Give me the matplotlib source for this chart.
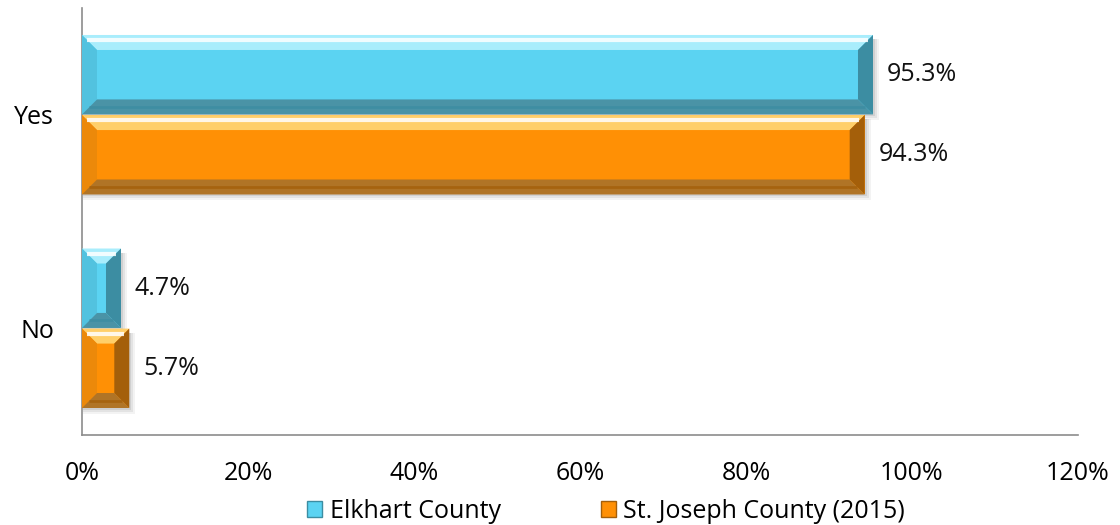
import matplotlib.pyplot as plt
import numpy as np
from matplotlib.patches import Polygon, Rectangle, Patch

plt.rcParams['font.family'] = ['Open Sans', 'DejaVu Sans']

categories = ["No", "Yes"]
series_names = ["Elkhart County", "St. Joseph County (2015)"]
elkhart = [4.7, 95.3]
st_joseph = [5.7, 94.3]
xticks = [0, 20, 40, 60, 80, 100, 120]

# face, top, left, right, bottom bevel shades
cyan = ["#5BD3F2", "#A9EDFC", "#52C2DF", "#3C8DA2", "#4A93A6"]
orange = ["#FF9005", "#FFCF6A", "#EC890A", "#A45F0A", "#B07426"]

fig = plt.figure(figsize=(11.2, 5.25), dpi=100)
ax = fig.add_axes([0.0732, 0.1714, 0.8893, 0.8134])

y = np.arange(len(categories))
h = 0.372
bars_e = ax.barh(y + 0.1875, elkhart, height=h, color=cyan[0], zorder=3)
bars_s = ax.barh(y - 0.1875, st_joseph, height=h, color=orange[0], zorder=3)

ax.set_xlim(0, 120)
ax.set_ylim(-0.5, 1.5)


def bevel(bar, shades, b=15):
    # bevelled edges around a bar, worked out in pixel space
    x0, y0 = bar.get_x(), bar.get_y()
    x1, y1 = x0 + bar.get_width(), y0 + bar.get_height()
    (px0, py0), (px1, py1) = ax.transData.transform([(x0, y0), (x1, y1)])
    bx = min(b, (px1 - px0) / 2)
    by = min(b, (py1 - py0) / 2)
    inv = ax.transData.inverted()
    # soft shadow
    for k, a in [(6, 0.08), (4, 0.12), (2, 0.16)]:
        sh = inv.transform([(px0 + 1, py0 - k), (px1 + k, py1 - 4)])
        ax.add_patch(Rectangle(sh[0], sh[1][0] - sh[0][0], sh[1][1] - sh[0][1],
                               color="#707070", alpha=a, zorder=2, lw=0))
    ix0, ix1, iy0, iy1 = px0 + bx, px1 - bx, py0 + by, py1 - by
    polys = [
        ([(px0, py1), (px1, py1), (ix1, iy1), (ix0, iy1)], shades[1]),
        ([(px0, py0), (px0, py1), (ix0, iy1), (ix0, iy0)], shades[2]),
        ([(px1, py0), (px1, py1), (ix1, iy1), (ix1, iy0)], shades[3]),
        ([(px0, py0), (px1, py0), (ix1, iy0), (ix0, iy0)], shades[4]),
    ]
    for pts, c in polys:
        ax.add_patch(Polygon(inv.transform(pts), closed=True, color=c, lw=0, zorder=4))
    # highlight stripe on the top bevel, dark stripe on the bottom one
    hl = inv.transform([(px0 + bx * 0.35, py1 - by * 0.35), (px1 - bx * 0.35, py1 - by * 0.35)])
    ax.plot(hl[:, 0], hl[:, 1], color="white", lw=3, alpha=0.85, zorder=5,
            solid_capstyle="butt")
    dl = inv.transform([(px0 + bx * 0.5, py0 + by * 0.5), (px1 - bx * 0.5, py0 + by * 0.5)])
    ax.plot(dl[:, 0], dl[:, 1], color=shades[3], lw=2, alpha=0.8, zorder=5,
            solid_capstyle="butt")


for bar in bars_e:
    bevel(bar, cyan)
for bar in bars_s:
    bevel(bar, orange)

for bars, vals in [(bars_e, elkhart), (bars_s, st_joseph)]:
    for bar, v in zip(bars, vals):
        ax.annotate(f"{v}%", (v, bar.get_y() + bar.get_height() / 2),
                    xytext=(10, 0), textcoords="offset points",
                    va="center", ha="left", fontsize=18, color="#111111")

ax.set_yticks(y)
ax.set_yticklabels(categories, fontsize=18)
ax.set_xticks(xticks)
ax.set_xticklabels([f"{t}%" for t in xticks], fontsize=18)
ax.tick_params(length=0)
ax.tick_params(axis="x", pad=19)
ax.tick_params(axis="y", pad=20)

for s in ["top", "right"]:
    ax.spines[s].set_visible(False)
for s in ["left", "bottom"]:
    ax.spines[s].set_color("#8c8c8c")
    ax.spines[s].set_linewidth(1.2)

handles = [Patch(facecolor=cyan[0], edgecolor=cyan[3]),
           Patch(facecolor=orange[0], edgecolor=orange[3])]
fig.legend(handles, series_names, loc="lower center", bbox_to_anchor=(0.541, -0.04),
           ncol=2, frameon=False, fontsize=18, handlelength=0.6, handleheight=0.6,
           handletextpad=0.3, columnspacing=4.0)

plt.savefig("out.png", dpi=100)
